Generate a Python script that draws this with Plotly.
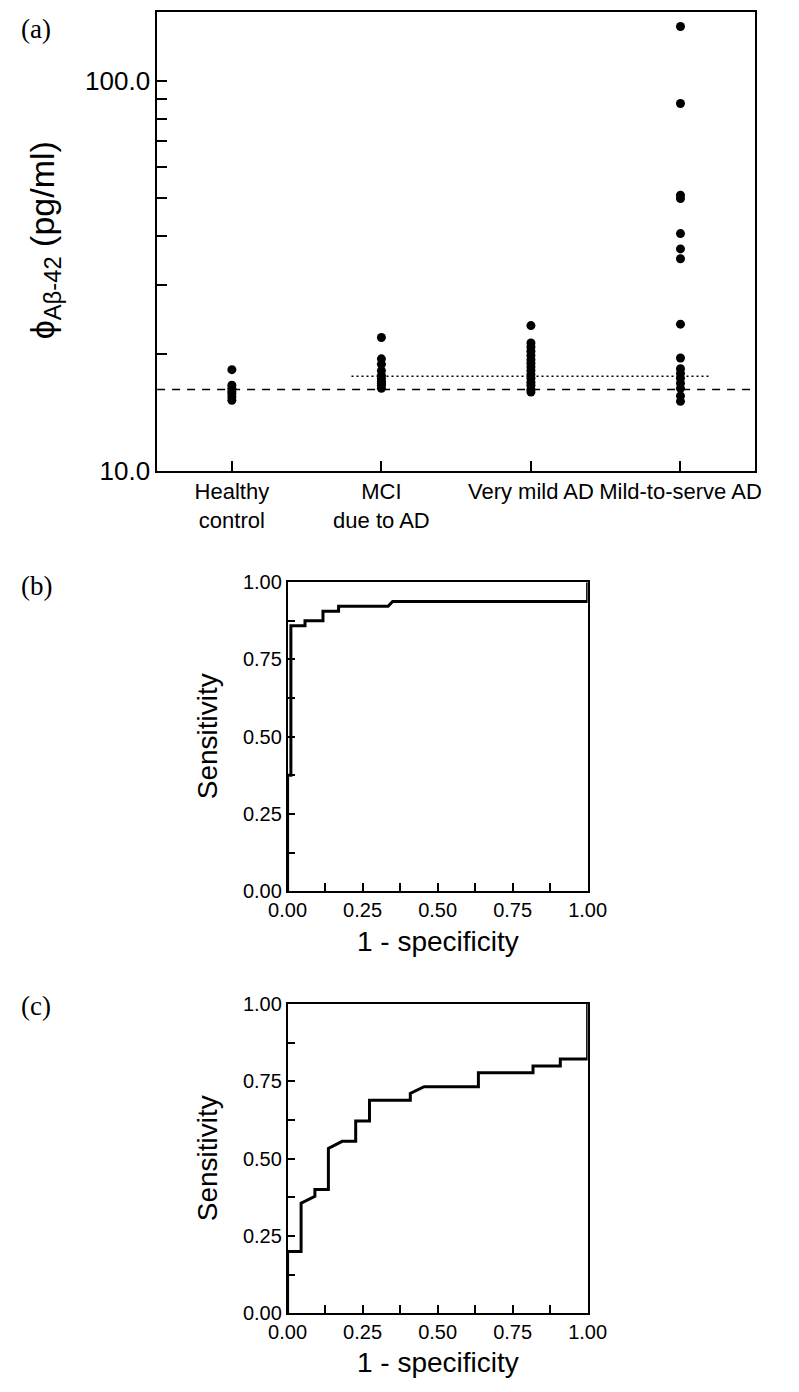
import plotly.graph_objects as go

# ---------------- data ----------------
categories = ["Healthy<br>control", "MCI<br>due to AD", "Very mild AD", "Mild-to-serve AD"]
healthy = [18.2, 16.6, 16.3, 16.0, 15.8, 15.5, 15.2]
mci = [22.0, 19.4, 18.8, 18.1, 17.6, 17.3, 17.0, 16.8, 16.6, 16.3]
very_mild = [23.6, 21.3, 20.8, 20.3, 19.8, 19.3, 18.9, 18.5, 18.1, 17.7, 17.3, 16.9, 16.6, 16.2, 15.95]
mild = [137.7, 87.4, 50.9, 49.9, 40.6, 37.1, 35.0, 23.8, 19.5, 18.3, 17.8, 17.3, 16.8, 16.3, 15.6, 15.1]
cutoff_dashed = 16.2
cutoff_dotted = 17.5
dotted_span = [0.8, 3.2]

y_ticks_a = [10, 20, 30, 40, 50, 60, 70, 80, 90, 100]
y_ticktext_a = ["10.0", "", "", "", "", "", "", "", "", "100.0"]

roc_b_fpr = [0, 0, 0.011, 0.011, 0.058, 0.058, 0.118, 0.118, 0.17, 0.17, 0.335, 0.35, 1.0, 1.0]
roc_b_tpr = [0, 0.375, 0.375, 0.859, 0.859, 0.875, 0.875, 0.906, 0.906, 0.922, 0.922, 0.9375, 0.9375, 1.0]

roc_c_fpr = [0, 0, 0.045, 0.045, 0.091, 0.091, 0.136, 0.136, 0.182, 0.227, 0.227, 0.273, 0.273,
             0.409, 0.409, 0.455, 0.636, 0.636, 0.818, 0.818, 0.909, 0.909, 1.0, 1.0]
roc_c_tpr = [0, 0.2, 0.2, 0.356, 0.378, 0.4, 0.4, 0.533, 0.556, 0.556, 0.622, 0.622, 0.689,
             0.689, 0.711, 0.733, 0.733, 0.778, 0.778, 0.8, 0.8, 0.822, 0.822, 1.0]

roc_ticks = [0, 0.125, 0.25, 0.375, 0.5, 0.625, 0.75, 0.875, 1.0]
roc_ticktext = ["0.00", "", "0.25", "", "0.50", "", "0.75", "", "1.00"]

# ---------------- figure ----------------
W, H = 799, 1392
SANS = "Liberation Sans, Arial, sans-serif"
SERIF = "Liberation Serif, Times New Roman, serif"

def px(x):
    return x / W

def py(y):
    return 1 - y / H

fig = go.Figure()

groups = [healthy, mci, very_mild, mild]
for i, vals in enumerate(groups):
    fig.add_trace(go.Scatter(x=[i] * len(vals), y=vals, mode="markers",
                             marker=dict(color="black", size=9),
                             xaxis="x", yaxis="y", showlegend=False))

fig.add_trace(go.Scatter(x=[-0.5, 3.5], y=[cutoff_dashed, cutoff_dashed], mode="lines",
                         line=dict(color="black", width=1.5, dash="8px,7px"),
                         xaxis="x", yaxis="y", showlegend=False))
fig.add_trace(go.Scatter(x=dotted_span, y=[cutoff_dotted, cutoff_dotted], mode="lines",
                         line=dict(color="black", width=1.5, dash="2px,3px"),
                         xaxis="x", yaxis="y", showlegend=False))

fig.add_trace(go.Scatter(x=roc_b_fpr, y=roc_b_tpr, mode="lines",
                         line=dict(color="black", width=3),
                         xaxis="x2", yaxis="y2", showlegend=False))
fig.add_trace(go.Scatter(x=roc_c_fpr, y=roc_c_tpr, mode="lines",
                         line=dict(color="black", width=3),
                         xaxis="x3", yaxis="y3", showlegend=False))

axis_common = dict(showline=True, mirror=True, linecolor="black", linewidth=1.5,
                   ticks="inside", tickcolor="black", tickwidth=1.5,
                   showgrid=False, zeroline=False)

fig.update_layout(
    width=W, height=H,
    margin=dict(l=0, r=0, t=0, b=0),
    paper_bgcolor="white", plot_bgcolor="white",
    showlegend=False,
    xaxis=dict(domain=[px(145), px(773)], range=[-0.5, 3.5], anchor="y",
               tickvals=[0, 1, 2, 3], ticktext=categories, ticklen=10, tickangle=0,
               tickfont=dict(family=SANS, size=22, color="black"), **axis_common),
    yaxis=dict(domain=[py(469), py(1)], type="log", range=[1, 2.176], anchor="x",
               tickvals=y_ticks_a, ticktext=y_ticktext_a, ticklen=10,
               tickfont=dict(family=SANS, size=26, color="black"), **axis_common),
    xaxis2=dict(domain=[px(282), px(597)], range=[0, 1], anchor="y2",
                tickvals=roc_ticks, ticktext=roc_ticktext, ticklen=8, tickangle=0,
                tickfont=dict(family=SANS, size=20, color="black"), **axis_common),
    yaxis2=dict(domain=[py(897), py(582)], range=[0, 1], anchor="x2",
                tickvals=roc_ticks, ticktext=roc_ticktext, ticklen=8,
                tickfont=dict(family=SANS, size=20, color="black"), **axis_common),
    xaxis3=dict(domain=[px(282), px(597)], range=[0, 1], anchor="y3",
                tickvals=roc_ticks, ticktext=roc_ticktext, ticklen=8, tickangle=0,
                tickfont=dict(family=SANS, size=20, color="black"), **axis_common),
    yaxis3=dict(domain=[py(1327), py(1012)], range=[0, 1], anchor="x3",
                tickvals=roc_ticks, ticktext=roc_ticktext, ticklen=8,
                tickfont=dict(family=SANS, size=20, color="black"), **axis_common),
)

annotations = [
    dict(text="(a)", x=px(0), y=py(18), xanchor="left", yanchor="middle",
         font=dict(family=SERIF, size=27, color="black")),
    dict(text="(b)", x=px(0), y=py(586), xanchor="left", yanchor="middle",
         font=dict(family=SERIF, size=27, color="black")),
    dict(text="(c)", x=px(0), y=py(1014), xanchor="left", yanchor="middle",
         font=dict(family=SERIF, size=27, color="black")),
    dict(text="ϕ<sub>Aβ-42</sub> (pg/ml)", x=px(27), y=py(234), textangle=-90,
         xanchor="center", yanchor="middle",
         font=dict(family=SANS, size=34, color="black")),
    dict(text="Sensitivity", x=px(198), y=py(739.5), textangle=-90,
         xanchor="center", yanchor="middle",
         font=dict(family=SANS, size=28, color="black")),
    dict(text="Sensitivity", x=px(198), y=py(1169.5), textangle=-90,
         xanchor="center", yanchor="middle",
         font=dict(family=SANS, size=28, color="black")),
    dict(text="1 - specificity", x=px(439.5), y=py(948),
         xanchor="center", yanchor="middle",
         font=dict(family=SANS, size=28, color="black")),
    dict(text="1 - specificity", x=px(439.5), y=py(1377),
         xanchor="center", yanchor="middle",
         font=dict(family=SANS, size=28, color="black")),
]
for a in annotations:
    a.update(xref="paper", yref="paper", showarrow=False)
fig.update_layout(annotations=annotations)

fig.write_html("out.html", config={"displayModeBar": False},
               post_script="document.body.style.margin='0';document.body.style.overflow='hidden';")
